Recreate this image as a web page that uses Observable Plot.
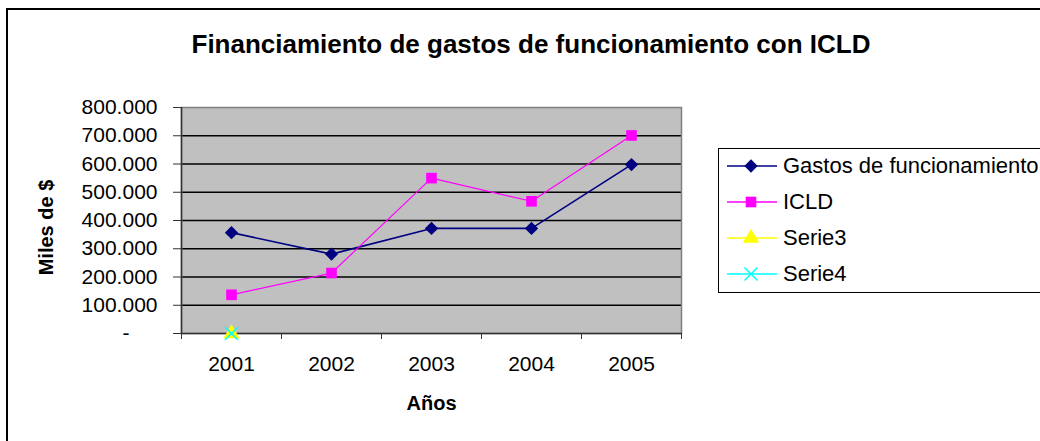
<!DOCTYPE html>
<html><head><meta charset="utf-8">
<script src="https://cdn.jsdelivr.net/npm/d3@7"></script>
<script src="https://cdn.jsdelivr.net/npm/@observablehq/plot@0.6"></script>
<style>
body{margin:0;background:#fff;font-family:"Liberation Sans",Arial,sans-serif}
#wrap{position:relative;width:1040px;height:441px;overflow:hidden;background:#fff}
#border{position:absolute;left:6px;top:8px;width:1200px;height:600px;border-left:2px solid #000;border-top:2px solid #000}
#title{position:absolute;left:0;top:29px;width:1062px;text-align:center;font-weight:bold;font-size:26px;white-space:nowrap}
#chart{position:absolute;left:0;top:0}
#legend{position:absolute;left:718px;top:148px;width:400px;height:143px;border:1px solid #000;background:#fff}
.row{position:absolute;left:0;height:30px;display:flex;align-items:center;white-space:nowrap;font-size:22px;color:#000}
.row svg{flex:none;margin-left:8px;margin-right:6px}
</style></head>
<body>
<div id="wrap">
  <div id="border"></div>
  <div id="title">Financiamiento de gastos de funcionamiento con ICLD</div>
  <div id="chart"></div>
  <div id="legend"></div>
</div>
<script>
const years = [2001, 2002, 2003, 2004, 2005];
const gastos = [357000, 281000, 372000, 372000, 598000];
const icld = [137000, 214000, 550000, 468000, 701000];
const serie3 = [0, null, null, null, null];
const serie4 = [0, null, null, null, null];
const seriesNames = ["Gastos de funcionamiento", "ICLD", "Serie3", "Serie4"];
const seriesColors = ["#000080", "#ff00ff", "#ffff00", "#00ffff"];
const seriesSymbols = ["diamond2", "square", "triangle", "times"];
const yTicks = [0, 100000, 200000, 300000, 400000, 500000, 600000, 700000, 800000];
const yTitle = "Miles de $";
const xTitle = "Años";

const loc = d3.formatLocale({decimal: ",", thousands: ".", grouping: [3], currency: ["$", ""]});
const fmt = loc.format(",");
const xDomain = [years[0] - 0.5, years[years.length - 1] + 0.5];
const boundaries = [...years.map(y => y - 0.5), years[years.length - 1] + 0.5];

const allSeries = [gastos, icld, serie3, serie4];
const rows = [];
allSeries.forEach((vals, si) => years.forEach((yr, i) => {
  if (vals[i] != null) rows.push({year: yr, value: vals[i], series: seriesNames[si]});
}));
const bySeries = name => rows.filter(d => d.series === name);

const chart = Plot.plot({
  width: 1040, height: 441,
  marginLeft: 181, marginRight: 359, marginTop: 107, marginBottom: 108,
  style: {fontFamily: "'Liberation Sans', Arial, sans-serif", fontSize: "21px", color: "#000", background: "transparent"},
  x: {type: "linear", domain: xDomain, axis: null},
  y: {type: "linear", domain: [yTicks[0], yTicks[yTicks.length - 1]], axis: null},
  marks: [
    Plot.frame({fill: "#c0c0c0", stroke: null}),
    Plot.ruleY(yTicks.slice(1, -1), {stroke: "#000", strokeWidth: 1.4}),
    Plot.frame({stroke: "#808080", strokeWidth: 1.5}),
    Plot.ruleX([xDomain[0]], {stroke: "#333", strokeWidth: 1.5}),
    Plot.ruleY([yTicks[0]], {stroke: "#333", strokeWidth: 1.5}),
    Plot.axisY({ticks: yTicks.slice(1), tickSize: 8, tickPadding: 16, tickFormat: d => fmt(d), label: null, stroke: "#333"}),
    Plot.axisY({ticks: [yTicks[0]], tickSize: 8, tickPadding: 44, tickFormat: () => "-", label: null, stroke: "#333"}),
    Plot.axisX({ticks: years, tickSize: 0, tickPadding: 23, tickFormat: d => String(d), label: null}),
    Plot.axisX({ticks: boundaries, tickSize: 6, tickFormat: () => "", label: null, stroke: "#333"}),
    Plot.text([yTitle], {frameAnchor: "left", dx: -135, dy: 7, rotate: -90, textAnchor: "middle", text: d => d, fontWeight: "bold", fontSize: 20}),
    Plot.text([xTitle], {frameAnchor: "bottom", dy: 76, text: d => d, fontWeight: "bold", fontSize: 20}),
    ...seriesNames.map((name, si) => Plot.line(bySeries(name), {x: "year", y: "value", stroke: seriesColors[si], strokeWidth: si === 0 ? 1.6 : 1.2})),
    Plot.dot(bySeries(seriesNames[0]), {x: "year", y: "value", symbol: seriesSymbols[0], r: 6, fill: seriesColors[0], stroke: null}),
    Plot.dot(bySeries(seriesNames[1]), {x: "year", y: "value", symbol: seriesSymbols[1], r: 6, fill: seriesColors[1], stroke: null}),
    Plot.dot(bySeries(seriesNames[2]), {x: "year", y: "value", symbol: seriesSymbols[2], r: 6, fill: seriesColors[2], stroke: null}),
    Plot.dot(bySeries(seriesNames[3]), {x: "year", y: "value", symbol: seriesSymbols[3], r: 6, stroke: seriesColors[3], strokeWidth: 1.5})
  ]
});
document.getElementById("chart").appendChild(chart);

// legend
const symMap = {diamond2: d3.symbolDiamond2, square: d3.symbolSquare, triangle: d3.symbolTriangle, times: d3.symbolTimes};
const legend = d3.select("#legend");
const rowTops = [2, 38, 74, 110];
seriesNames.forEach((name, i) => {
  const row = legend.append("div").attr("class", "row").style("top", rowTops[i] + "px");
  const svg = row.append("svg").attr("width", 50).attr("height", 30);
  svg.append("line").attr("x1", 0).attr("x2", 50).attr("y1", 15).attr("y2", 15)
    .attr("stroke", seriesColors[i]).attr("stroke-width", 1.5);
  const filled = seriesSymbols[i] !== "times";
  svg.append("path").attr("transform", "translate(24,15)")
    .attr("d", d3.symbol(symMap[seriesSymbols[i]], Math.PI * 36)())
    .attr("fill", filled ? seriesColors[i] : "none")
    .attr("stroke", filled ? "none" : seriesColors[i]).attr("stroke-width", 1.5);
  row.append("span").text(name);
});
</script>
</body></html>
